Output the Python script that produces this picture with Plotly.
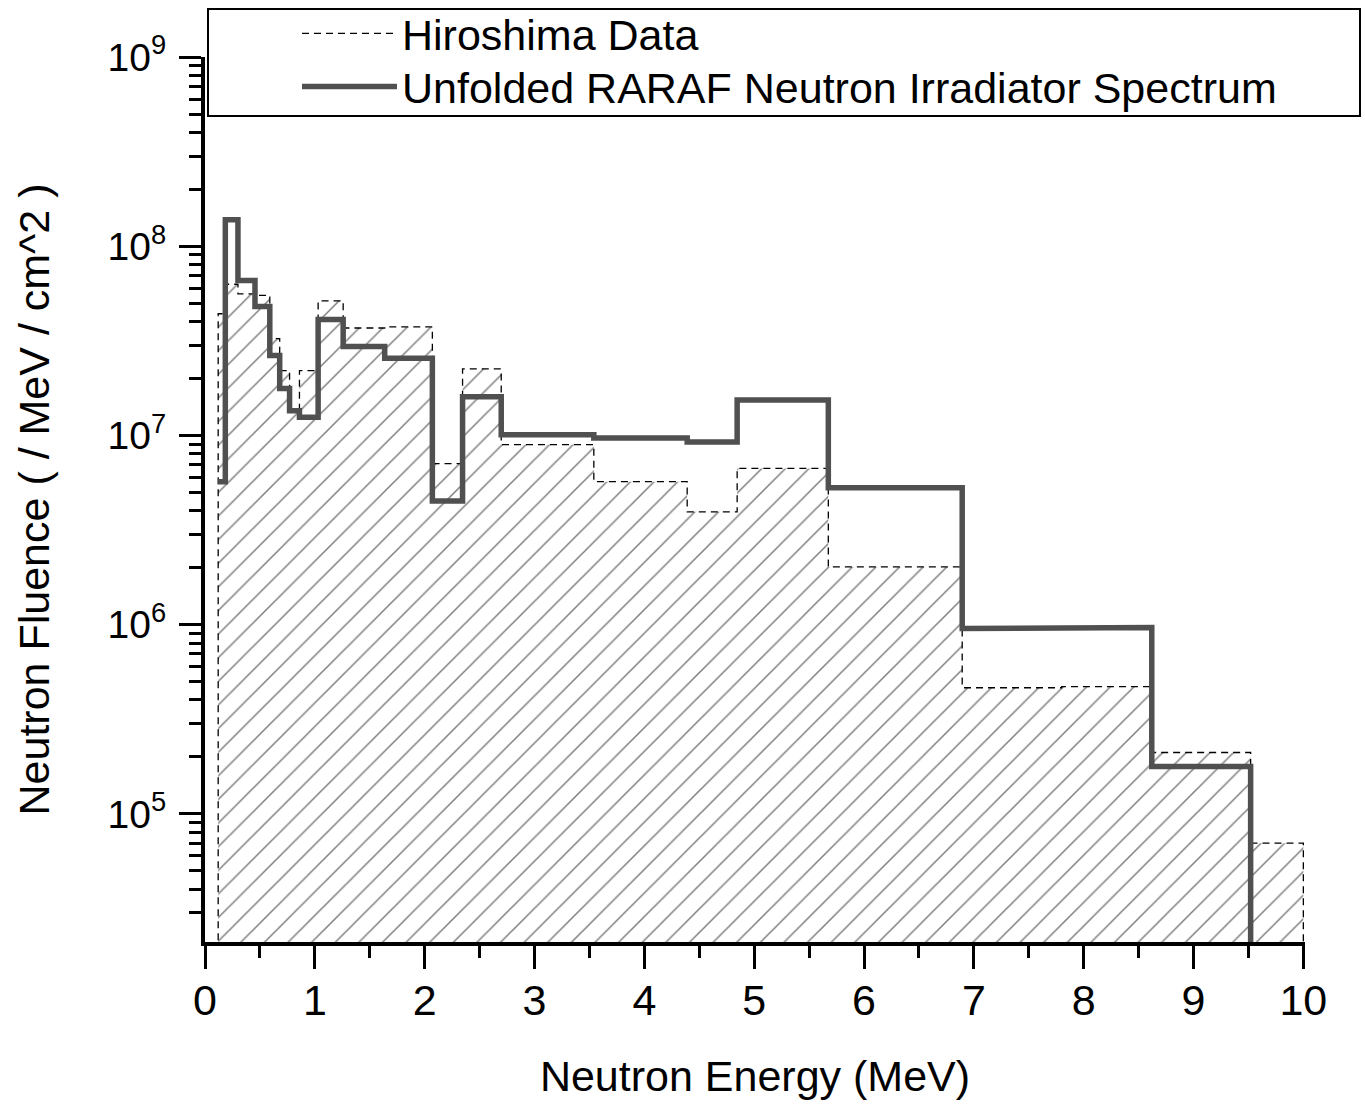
import plotly.graph_objects as go

# Bin edges (MeV) shared by both spectra
edges = [0.12, 0.185, 0.30, 0.455, 0.59, 0.68, 0.77, 0.86, 1.03, 1.258, 1.636,
         2.07, 2.345, 2.697, 3.54, 4.39, 4.845, 5.675, 6.894, 7.80, 8.62, 9.52, 10.0]

# Hiroshima data (fluence per MeV per cm^2), one value per bin
hiroshima = [4.4e7, 6.3e7, 5.6e7, 5.5e7, 3.25e7, 2.2e7, 1.35e7, 2.2e7, 5.15e7, 3.7e7,
             3.75e7, 7.1e6, 2.25e7, 8.95e6, 5.7e6, 3.95e6, 6.7e6, 2.02e6, 4.64e5,
             4.7e5, 2.11e5, 7.0e4]

# Unfolded RARAF neutron irradiator spectrum (ends at 9.52 MeV)
raraf = [5.7e6, 1.38e8, 6.6e7, 4.8e7, 2.65e7, 1.77e7, 1.35e7, 1.25e7, 4.1e7, 2.95e7,
         2.56e7, 4.5e6, 1.6e7, 1.01e7, 9.7e6, 9.25e6, 1.54e7, 5.3e6, 9.55e5,
         9.67e5, 1.78e5]

x_ticks = list(range(0, 11))
x_minor = [i + 0.5 for i in range(10)]
y_ticks = [1e5, 1e6, 1e7, 1e8, 1e9]
y_ticktext = ["10<sup>5</sup>", "10<sup>6</sup>", "10<sup>7</sup>", "10<sup>8</sup>", "10<sup>9</sup>"]
y_minor = [m * 10 ** e for e in range(4, 9) for m in range(2, 10) if m * 10 ** e > 2.1e4]

FLOOR = 1e3  # below the visible range, used to drop steps to the axis


def steps(edg, vals, drop_left, drop_right):
    xs, ys = [], []
    if drop_left:
        xs.append(edg[0]); ys.append(FLOOR)
    for i, v in enumerate(vals):
        xs += [edg[i], edg[i + 1]]
        ys += [v, v]
    if drop_right:
        xs.append(edg[len(vals)]); ys.append(FLOOR)
    return xs, ys


hx, hy = steps(edges, hiroshima, True, True)
rx, ry = steps(edges, raraf, False, True)

fig = go.Figure()
fig.add_trace(go.Scatter(
    x=hx, y=hy, mode="none", fill="toself", fillcolor="white",
    fillpattern=dict(shape="/", size=16.7, solidity=0.09, fgcolor="black", bgcolor="white"),
    showlegend=False, hoverinfo="skip"))
fig.add_trace(go.Scatter(
    x=hx, y=hy, mode="lines", name="Hiroshima Data", legend="legend",
    line=dict(color="black", width=1.3, dash="7px,5px")))
fig.add_trace(go.Scatter(
    x=rx, y=ry, mode="lines", name="Unfolded RARAF Neutron Irradiator Spectrum",
    legend="legend2", line=dict(color="#505050", width=5.5)))

W, H = 1365, 1106
L, R, T, B = 205, 60, 57, 164
pw, ph = W - L - R, H - T - B

legend_common = dict(xanchor="left", yanchor="top", bgcolor="rgba(0,0,0,0)",
                     borderwidth=0, itemwidth=95, font=dict(size=43), tracegroupgap=0)

fig.update_layout(
    width=W, height=H,
    margin=dict(l=L, r=R, t=T, b=B, autoexpand=False),
    plot_bgcolor="white", paper_bgcolor="white",
    font=dict(family="Liberation Sans, Arial, sans-serif", color="black", size=43),
    legend=dict(x=(297 - L) / pw, y=(H - B + 1) / ph, **legend_common),
    legend2=dict(x=(297 - L) / pw, y=(H - B - 52) / ph, **legend_common),
    shapes=[dict(type="rect", xref="paper", yref="paper",
                 x0=(208 - L) / pw, x1=(1360 - L) / pw,
                 y0=(H - B - 116) / ph, y1=(H - B - 9) / ph,
                 line=dict(color="black", width=2))],
)

fig.update_xaxes(
    range=[0, 10.015], tickvals=x_ticks, ticks="outside", ticklen=23, tickwidth=3,
    tickcolor="black", showline=True, linewidth=4, linecolor="black",
    showgrid=False, zeroline=False, tickfont=dict(size=43), automargin=False,
    ticklabelstandoff=-6,
    minor=dict(tickvals=x_minor, ticks="outside", ticklen=12, tickwidth=3, tickcolor="black"),
    title=dict(text="Neutron Energy (MeV)", font=dict(size=43), standoff=39),
)
fig.update_yaxes(
    type="log", range=[4.3228, 9.0005], tickvals=y_ticks, ticktext=y_ticktext,
    ticks="outside", ticklen=22, tickwidth=3, tickcolor="black",
    showline=True, linewidth=4, linecolor="black", showgrid=False, zeroline=False,
    tickfont=dict(size=39), automargin=False, ticklabelstandoff=5,
    minor=dict(tickvals=y_minor, ticks="outside", ticklen=12, tickwidth=3, tickcolor="black"),
    title=dict(text="Neutron Fluence ( / MeV / cm^2 )", font=dict(size=43), standoff=46),
)

fig.write_html("out.html")
